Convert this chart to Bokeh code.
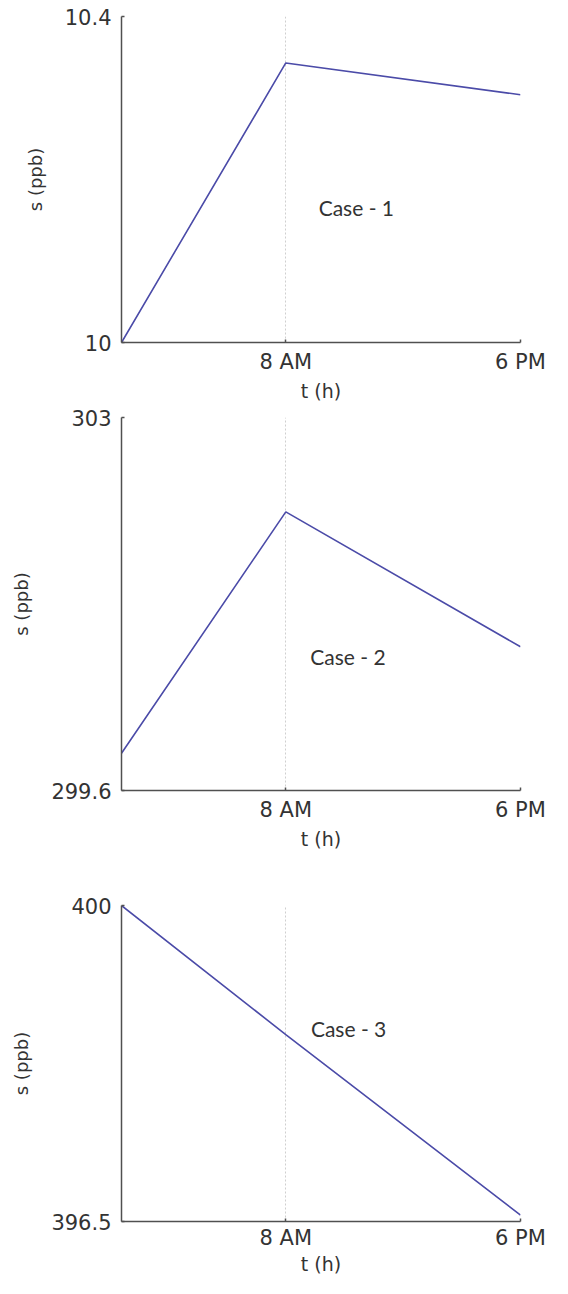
from bokeh.plotting import figure
from bokeh.layouts import column
from bokeh.models import FixedTicker, Label, Range1d
from bokeh.embed import file_html
from bokeh.resources import INLINE

# ---- data ----
t_hours = [1, 8, 18]                 # start, 8 AM, 6 PM
x_ticks = [8, 18]
x_tick_labels = ["8 AM", "6 PM"]

s_case1 = [10.0, 10.343, 10.304]
s_case2 = [299.94, 302.14, 300.91]
s_case3 = [400.0, 398.57, 396.57]

y_ticks_case1 = [10, 10.4]
y_ticks_case2 = [299.6, 303]
y_ticks_case3 = [396.5, 400]
y_tick_labels_case1 = ["10", "10.4"]
y_tick_labels_case2 = ["299.6", "303"]
y_tick_labels_case3 = ["396.5", "400"]

case_names = ["Case - 1", "Case - 2", "Case - 3"]
case_label_pos = [(9.4, 10.166), (9.04, 300.82), (9.07, 398.64)]

LINE_COLOR = "#4b4ba8"
AXIS_COLOR = "#505050"
TEXT_COLOR = "#333333"
GRID_COLOR = "#cfcfcf"
TICK_FONT = "DejaVu Sans"


def make_panel(s, yticks, ylabels, name, pos, height, left, right, top, bottom,
               xlabel_standoff=7, xtitle_standoff=3):
    p = figure(width=556, height=height, output_backend="svg", toolbar_location=None,
               x_range=Range1d(t_hours[0], t_hours[-1]),
               y_range=Range1d(yticks[0], yticks[-1]),
               min_border_left=left, min_border_right=right,
               min_border_top=top, min_border_bottom=bottom,
               outline_line_color=None, background_fill_color="white",
               border_fill_color="white")
    p.line(t_hours, s, line_color=LINE_COLOR, line_width=1.6)

    # x axis
    p.xaxis.ticker = FixedTicker(ticks=x_ticks)
    p.xaxis.major_label_overrides = dict(zip(x_ticks, x_tick_labels))
    p.xaxis.axis_label = "t (h)"
    # y axis
    p.yaxis.ticker = FixedTicker(ticks=yticks)
    p.yaxis.major_label_overrides = dict(zip(yticks, ylabels))
    p.yaxis.axis_label = "s (ppb)"

    for ax in (p.xaxis[0], p.yaxis[0]):
        ax.axis_line_color = AXIS_COLOR
        ax.axis_line_width = 1.5
        ax.major_tick_line_color = AXIS_COLOR
        ax.major_tick_line_width = 1.5
        ax.major_tick_in = 3
        ax.major_tick_out = 0
        ax.minor_tick_line_color = None
        ax.major_label_text_font = TICK_FONT
        ax.major_label_text_font_size = "21px"
        ax.major_label_text_color = TEXT_COLOR
        ax.axis_label_text_font = TICK_FONT
        ax.axis_label_text_font_style = "normal"
        ax.axis_label_text_color = TEXT_COLOR

    p.xaxis.major_label_standoff = xlabel_standoff
    p.xaxis.axis_label_text_font_size = "19px"
    p.xaxis.axis_label_standoff = xtitle_standoff
    p.yaxis.major_label_standoff = 10
    p.yaxis.axis_label_text_font_size = "18px"
    p.yaxis.axis_label_standoff = 16

    p.xgrid.ticker = FixedTicker(ticks=x_ticks)
    p.xgrid.grid_line_color = GRID_COLOR
    p.xgrid.grid_line_dash = "2 2"
    p.xgrid.grid_line_width = 1
    p.ygrid.visible = False

    p.add_layout(Label(x=pos[0], y=pos[1], text=name, text_font="Lato",
                       text_font_size="21px", text_color=TEXT_COLOR,
                       text_baseline="middle", text_align="left"))
    return p


p1 = make_panel(s_case1, y_ticks_case1, y_tick_labels_case1, case_names[0], case_label_pos[0],
                height=404, left=108, right=29, top=16, bottom=62)
p2 = make_panel(s_case2, y_ticks_case2, y_tick_labels_case2, case_names[1], case_label_pos[1],
                height=448, left=121, right=31, top=13, bottom=62)
p3 = make_panel(s_case3, y_ticks_case3, y_tick_labels_case3, case_names[2], case_label_pos[2],
                height=426, left=120, right=36, top=53, bottom=57,
                xlabel_standoff=4, xtitle_standoff=0)

layout = column(p1, p2, p3, spacing=0)
open("out.html", "w").write(file_html(layout, INLINE))
